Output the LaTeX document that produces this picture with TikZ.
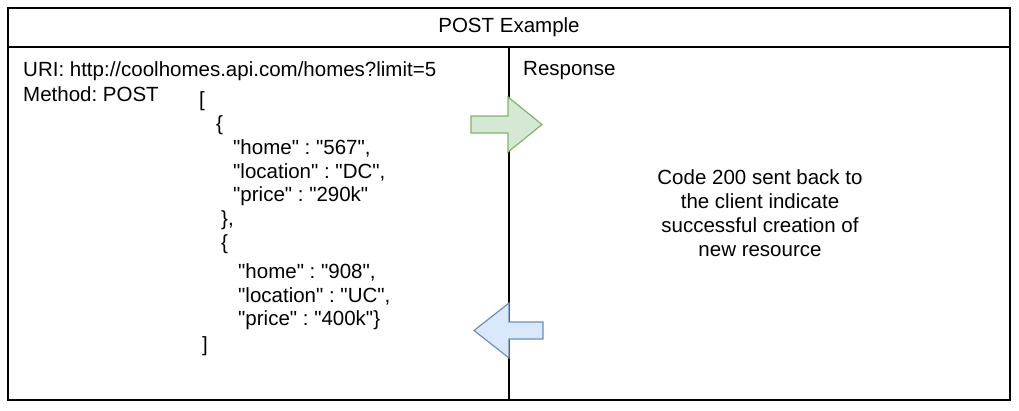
\documentclass[tikz,border=0pt]{standalone}
\usepackage{fontspec}
\setmainfont{Liberation Sans}[Ligatures=TeXOff]
\usetikzlibrary{positioning}
\definecolor{SendGreen}{HTML}{D5E8D4}
\definecolor{SendGreenLine}{HTML}{82B366}
\definecolor{BackBlue}{HTML}{DAE8FC}
\definecolor{BackBlueLine}{HTML}{6C8EBF}
\frenchspacing

\begin{document}
\begin{tikzpicture}[x=1pt, y=-1pt, font=\fontsize{20.5}{24}\selectfont,
    panel/.style={draw=black, line width=1.3pt, inner sep=0pt},
    txt/.style={anchor=west, inner sep=0pt},
    send/.style={fill=SendGreen, draw=SendGreenLine, line width=1.2pt},
    back/.style={fill=BackBlue, draw=BackBlueLine, line width=1.2pt}]
    \useasboundingbox (0,0) rectangle (1019,410);

    % Title row
    \node[panel, minimum width=1002pt, minimum height=39pt] (title) at (509,27.5) {POST Example};

    % Request and response panels
    \node[panel, minimum width=501pt, minimum height=353pt] (request) at (258.5,223.5) {};
    \node[panel, minimum width=501pt, minimum height=353pt] (response) at (759.5,223.5) {};

    % Request text
    \node[txt] (uri) at (23,71) {URI: http://coolhomes.api.com/homes?limit=5};
    \node[txt] (method) at (23,94) {Method: POST};

    % JSON body, one line per node
    \foreach \x/\y/\t [count=\i] in {199/101/{[}, 216/125/{\{},
        233/148/{"home" : "567",}, 233/172/{"location" : "DC",}, 233/196/{"price" : "290k"},
        221/220/{\},}, 221/244/{\{},
        238/272/{"home" : "908",}, 238/296/{"location" : "UC",}, 238/320/{"price" : "400k"\}},
        202/346/{]}} {
        \node[txt] (j\i) at (\x,\y) {\t};
    }

    % Response text
    \node[txt] (resp) at (523,71) {Response};
    \node[inner sep=0pt, align=center] (code) at (760,213)
        {Code 200 sent back to\\the client indicate\\successful creation of\\new resource};

    % Request goes over, reply comes back
    \draw[send] (471,116) -- (508,116) -- (508,97) -- (542,124.5) -- (508,152)
        -- (508,133) -- (471,133) -- cycle;
    \draw[back] (543,322) -- (509,322) -- (509,303) -- (474,330.5) -- (509,358)
        -- (509,339) -- (543,339) -- cycle;
\end{tikzpicture}
\end{document}
